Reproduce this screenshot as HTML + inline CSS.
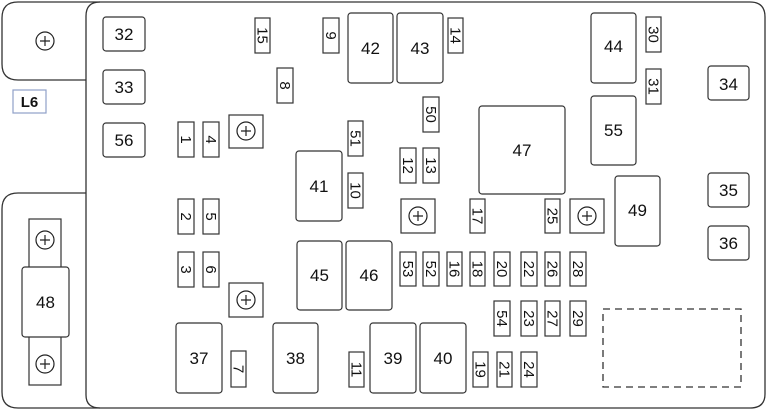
<!DOCTYPE html>
<html><head><style>html,body{margin:0;padding:0;background:#fff;width:768px;height:412px;overflow:hidden}</style></head>
<body>
<svg width="768" height="412" viewBox="0 0 768 412" xmlns="http://www.w3.org/2000/svg" font-family="Liberation Sans, sans-serif">
<g fill="none" stroke="#333" stroke-width="1.3">
<path d="M86,395 L86,16 Q86,2 100,2 L750,2 Q765,2 765,17 L765,394 Q765,408 750,408 L100,408 Q86,408 86,395"/>
<path d="M86,80 L18,80 Q2,80 2,64 L2,18 Q2,2 18,2 L100,2"/>
<path d="M86,193 L18,193 Q2,193 2,209 L2,392 Q2,408 18,408 L100,408"/>
<rect x="603" y="309" width="138" height="78" stroke-dasharray="7,5"/>
</g>
<rect x="13" y="90" width="33" height="23" fill="#fff" stroke="#8fa0c8" stroke-width="1.2"/>
<text x="29.5" y="107" font-size="15" font-weight="bold" text-anchor="middle" fill="#111">L6</text>
<g fill="none" stroke="#222" stroke-width="1.2">
<circle cx="45" cy="41" r="9"/><path d="M40,41h10M45,36v10"/>
</g>
<g fill="#fff" stroke="#333" stroke-width="1.2">
<rect x="29" y="219" width="32" height="166"/>
<rect x="22" y="267" width="47" height="70" rx="3"/>
<rect x="229" y="115" width="34" height="33"/>
<rect x="229" y="283" width="34" height="34"/>
<rect x="401" y="199" width="34" height="34"/>
<rect x="570" y="199" width="34" height="34"/>
</g>
<g fill="none" stroke="#222" stroke-width="1.2">
<circle cx="45" cy="240" r="9"/><path d="M40,240h10M45,235v10"/>
<circle cx="45" cy="364" r="9"/><path d="M40,364h10M45,359v10"/>
<circle cx="246" cy="131" r="9"/><path d="M241,131h10M246,126v10"/>
<circle cx="246" cy="300" r="9"/><path d="M241,300h10M246,295v10"/>
<circle cx="418" cy="216" r="9"/><path d="M413,216h10M418,211v10"/>
<circle cx="587" cy="216" r="9"/><path d="M582,216h10M587,211v10"/>
</g>
<text x="45.5" y="308" font-size="17" text-anchor="middle" fill="#111">48</text>
<g fill="#fff" stroke="#333" stroke-width="1.2">
<rect x="103" y="17" width="42" height="34" rx="3"/>
<rect x="103" y="70" width="42" height="34" rx="3"/>
<rect x="103" y="123" width="42" height="34" rx="3"/>
<rect x="708" y="66" width="41" height="34" rx="3"/>
<rect x="708" y="173" width="41" height="34" rx="3"/>
<rect x="708" y="226" width="41" height="34" rx="3"/>
<rect x="176" y="323" width="46" height="70" rx="3"/>
<rect x="273" y="323" width="45" height="70" rx="3"/>
<rect x="348" y="13" width="45" height="70" rx="3"/>
<rect x="397" y="13" width="46" height="70" rx="3"/>
<rect x="296" y="151" width="46" height="70" rx="3"/>
<rect x="479" y="106" width="86" height="88" rx="3"/>
<rect x="297" y="241" width="45" height="69" rx="3"/>
<rect x="346" y="241" width="46" height="69" rx="3"/>
<rect x="370" y="323" width="46" height="70" rx="3"/>
<rect x="420" y="323" width="46" height="70" rx="3"/>
<rect x="591" y="13" width="45" height="70" rx="3"/>
<rect x="591" y="96" width="45" height="69" rx="3"/>
<rect x="615" y="176" width="45" height="70" rx="3"/>
</g>
<g font-size="17" text-anchor="middle" fill="#111">
<text x="124" y="40">32</text><text x="124" y="93">33</text><text x="124" y="146">56</text>
<text x="728.5" y="90">34</text><text x="728.5" y="196">35</text><text x="728.5" y="249">36</text>
<text x="199" y="364">37</text><text x="295.5" y="364">38</text>
<text x="370.5" y="54">42</text><text x="420" y="54">43</text>
<text x="319" y="192">41</text><text x="522" y="156">47</text>
<text x="319.5" y="281">45</text><text x="369" y="281">46</text>
<text x="393" y="364">39</text><text x="443" y="364">40</text>
<text x="613.5" y="52">44</text><text x="613.5" y="136">55</text><text x="637.5" y="216">49</text>
</g>
<g fill="#fff" stroke="#333" stroke-width="1.2">
<rect x="255" y="18" width="15" height="35"/><rect x="277" y="68" width="16" height="35"/>
<rect x="178" y="122" width="16" height="35"/><rect x="203" y="122" width="16" height="35"/>
<rect x="178" y="199" width="16" height="35"/><rect x="203" y="199" width="16" height="35"/>
<rect x="178" y="252" width="16" height="35"/><rect x="203" y="252" width="16" height="35"/>
<rect x="231" y="351" width="15" height="36"/>
<rect x="323" y="18" width="16" height="35"/><rect x="448" y="18" width="15" height="35"/>
<rect x="423" y="97" width="16" height="35"/><rect x="348" y="121" width="15" height="35"/>
<rect x="348" y="173" width="15" height="35"/>
<rect x="400" y="148" width="16" height="35"/><rect x="423" y="148" width="16" height="35"/>
<rect x="470" y="199" width="15" height="34"/><rect x="545" y="199" width="15" height="34"/>
<rect x="400" y="252" width="16" height="34"/><rect x="423" y="252" width="16" height="34"/>
<rect x="447" y="252" width="15" height="34"/><rect x="470" y="252" width="15" height="34"/>
<rect x="494" y="252" width="16" height="34"/><rect x="521" y="252" width="16" height="34"/>
<rect x="545" y="252" width="15" height="34"/><rect x="570" y="252" width="16" height="34"/>
<rect x="494" y="301" width="16" height="35"/><rect x="521" y="301" width="16" height="35"/>
<rect x="545" y="301" width="15" height="35"/><rect x="570" y="301" width="16" height="35"/>
<rect x="349" y="352" width="15" height="35"/><rect x="473" y="352" width="15" height="35"/>
<rect x="497" y="352" width="15" height="35"/><rect x="521" y="352" width="16" height="35"/>
<rect x="646" y="17" width="15" height="35"/><rect x="646" y="69" width="15" height="35"/>
</g>
<g font-size="15" text-anchor="middle" fill="#111">
<text transform="translate(262.5,35.5) rotate(90)" y="5">15</text>
<text transform="translate(285,85.5) rotate(90)" y="5">8</text>
<text transform="translate(186,139.5) rotate(90)" y="5">1</text>
<text transform="translate(211,139.5) rotate(90)" y="5">4</text>
<text transform="translate(186,216.5) rotate(90)" y="5">2</text>
<text transform="translate(211,216.5) rotate(90)" y="5">5</text>
<text transform="translate(186,269.5) rotate(90)" y="5">3</text>
<text transform="translate(211,269.5) rotate(90)" y="5">6</text>
<text transform="translate(238.5,369) rotate(90)" y="5">7</text>
<text transform="translate(331,35.5) rotate(90)" y="5">9</text>
<text transform="translate(455.5,35.5) rotate(90)" y="5">14</text>
<text transform="translate(431,114.5) rotate(90)" y="5">50</text>
<text transform="translate(355.5,138.5) rotate(90)" y="5">51</text>
<text transform="translate(355.5,190.5) rotate(90)" y="5">10</text>
<text transform="translate(408,165.5) rotate(90)" y="5">12</text>
<text transform="translate(431,165.5) rotate(90)" y="5">13</text>
<text transform="translate(477.5,216) rotate(90)" y="5">17</text>
<text transform="translate(552.5,216) rotate(90)" y="5">25</text>
<text transform="translate(408,269) rotate(90)" y="5">53</text>
<text transform="translate(431,269) rotate(90)" y="5">52</text>
<text transform="translate(454.5,269) rotate(90)" y="5">16</text>
<text transform="translate(477.5,269) rotate(90)" y="5">18</text>
<text transform="translate(502,269) rotate(90)" y="5">20</text>
<text transform="translate(529,269) rotate(90)" y="5">22</text>
<text transform="translate(552.5,269) rotate(90)" y="5">26</text>
<text transform="translate(578,269) rotate(90)" y="5">28</text>
<text transform="translate(502,318.5) rotate(90)" y="5">54</text>
<text transform="translate(529,318.5) rotate(90)" y="5">23</text>
<text transform="translate(552.5,318.5) rotate(90)" y="5">27</text>
<text transform="translate(578,318.5) rotate(90)" y="5">29</text>
<text transform="translate(356.5,369.5) rotate(90)" y="5">11</text>
<text transform="translate(480.5,369.5) rotate(90)" y="5">19</text>
<text transform="translate(504.5,369.5) rotate(90)" y="5">21</text>
<text transform="translate(529,369.5) rotate(90)" y="5">24</text>
<text transform="translate(653.5,34.5) rotate(90)" y="5">30</text>
<text transform="translate(653.5,86.5) rotate(90)" y="5">31</text>
</g>
</svg>
</body></html>
